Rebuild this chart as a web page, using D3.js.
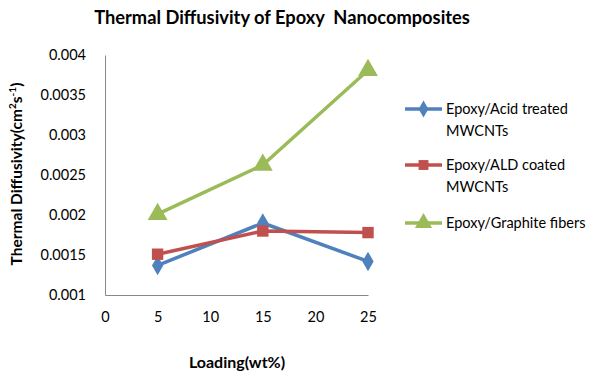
<!DOCTYPE html>
<html><head><meta charset="utf-8">
<script src="https://cdn.jsdelivr.net/npm/d3@7"></script>
<style>body{margin:0;background:#fff;} svg{display:block;font-family:Lato,"Open Sans",sans-serif;}</style>
</head><body>
<svg id="c" width="605" height="378"></svg>
<script>
const loading = [5, 15, 25];
const acidTreated = [0.00137, 0.00190, 0.00142];
const aldCoated = [0.00151, 0.00180, 0.00178];
const graphite = [0.00201, 0.002625, 0.00381];
const seriesNames = ["Epoxy/Acid treated MWCNTs", "Epoxy/ALD coated MWCNTs", "Epoxy/Graphite fibers"];
const legendLines = [["Epoxy/Acid treated", "MWCNTs"], ["Epoxy/ALD coated", "MWCNTs"], ["Epoxy/Graphite fibers"]];
const xTicks = [0, 5, 10, 15, 20, 25];
const yTicks = [0.001, 0.0015, 0.002, 0.0025, 0.003, 0.0035, 0.004];
const yTickLabels = ["0.001", "0.0015", "0.002", "0.0025", "0.003", "0.0035", "0.004"];

const colors = ["#4F81BD", "#C0504D", "#9BBB59"];
const symbols = [d3.symbolDiamond, d3.symbolSquare, d3.symbolTriangle];
const symSizes = [110, 130, 170];
const series = [acidTreated, aldCoated, graphite];

const svg = d3.select("#c");
const x = d3.scaleLinear().domain([0, 25]).range([105, 368]);
const y = d3.scaleLinear().domain([0.001, 0.004]).range([295, 55]);

svg.append("text").attr("x", 282).attr("y", 24).attr("text-anchor", "middle")
  .attr("font-weight", "bold").attr("font-size", 18.3).attr("fill", "#000")
  .attr("xml:space", "preserve")
  .text("Thermal Diffusivity of Epoxy  Nanocomposites");

// axes
const xAxis = svg.append("g").attr("transform", "translate(0,295)")
  .call(d3.axisBottom(x).tickValues(xTicks).tickSize(0).tickPadding(22).tickFormat(d3.format("d")));
const yAxis = svg.append("g").attr("transform", "translate(105,0)")
  .call(d3.axisLeft(y).tickValues(yTicks).tickSize(0).tickPadding(19).tickFormat((d, i) => yTickLabels[i]));
[xAxis, yAxis].forEach(g => {
  g.select(".domain").attr("stroke", "#888").attr("stroke-width", 1);
  g.selectAll("text").attr("font-size", 14.5).attr("fill", "#000").attr("font-family", "Lato,'Open Sans',sans-serif");
});
xAxis.selectAll("text").attr("dy", "0.35em").attr("transform", null);

svg.append("text").attr("x", 237).attr("y", 368).attr("text-anchor", "middle")
  .attr("font-weight", "bold").attr("font-size", 16).text("Loading(wt%)");

const yl = svg.append("text").attr("transform", "translate(22,174) rotate(-90)")
  .attr("text-anchor", "middle").attr("font-weight", "bold").attr("font-size", 15.5);
yl.append("tspan").text("Thermal Diffusivity(cm");
yl.append("tspan").attr("font-size", 10).attr("dy", -6).text("2");
yl.append("tspan").attr("dy", 6).text("s");
yl.append("tspan").attr("font-size", 10).attr("dy", -6).text("-1");
yl.append("tspan").attr("dy", 6).text(")");

const line = d3.line().x((d, i) => x(loading[i])).y(d => y(d));
series.forEach((s, k) => {
  svg.append("path").datum(s).attr("d", line).attr("fill", "none")
    .attr("stroke", colors[k]).attr("stroke-width", 3.5).attr("stroke-linejoin", "round");
  svg.selectAll(".m" + k).data(s).enter().append("path")
    .attr("transform", (d, i) => `translate(${x(loading[i])},${y(d)})`)
    .attr("d", d3.symbol().type(symbols[k]).size(symSizes[k])).attr("fill", colors[k]);
});

// legend
const legY = [109, 165, 223];
legendLines.forEach((lines, k) => {
  const g = svg.append("g").attr("transform", `translate(0,${legY[k]})`);
  g.append("line").attr("x1", 405).attr("x2", 442).attr("stroke", colors[k]).attr("stroke-width", 3.5);
  g.append("path").attr("transform", "translate(423.5,0)")
    .attr("d", d3.symbol().type(symbols[k]).size(symSizes[k] * 0.75)).attr("fill", colors[k]);
  lines.forEach((t, j) => {
    g.append("text").attr("x", 446).attr("y", j * 22).attr("dy", "0.35em")
      .attr("font-size", 14.5).attr("fill", "#000").text(t);
  });
});
</script>
</body></html>
